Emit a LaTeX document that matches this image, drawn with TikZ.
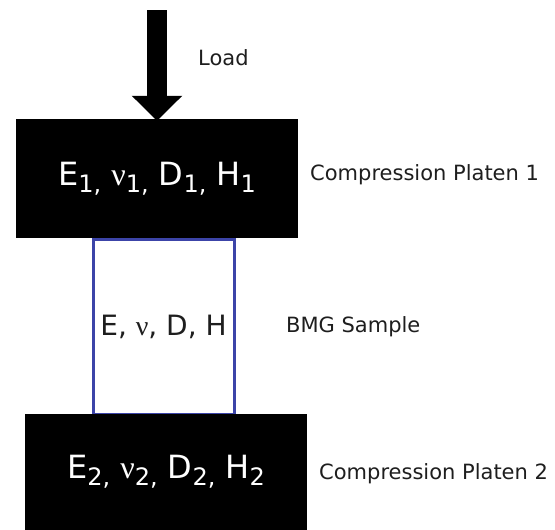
\documentclass[tikz,border=0pt]{standalone}
\usepackage{fontspec}
\setmainfont{DejaVu Sans}
\newfontfamily\nufont{Liberation Serif}
\usetikzlibrary{arrows.meta}
\definecolor{sampleblue}{RGB}{60,68,168}
\definecolor{labelgray}{RGB}{30,30,30}
\newcommand{\lowsub}[1]{\raisebox{-7pt}{\fontsize{24}{24}\selectfont #1}}
\newcommand{\nusym}{{\nufont ν}}
\tikzset{
  platen/.style={fill=black, inner sep=0pt, minimum width=282pt, text=white,
    font=\fontsize{32}{32}\selectfont},
  samplebox/.style={draw=sampleblue, line width=3pt, inner sep=0pt, fill=white,
    font=\fontsize{28}{28}\selectfont, text=labelgray},
  lbl/.style={anchor=west, inner sep=0pt, text=labelgray, font=\fontsize{21}{21}\selectfont},
  loadarrow/.style={line width=20pt, -{Triangle[width=49pt,length=25pt]}}
}
\begin{document}
\begin{tikzpicture}[x=1pt,y=-1pt]
\useasboundingbox (0,0) rectangle (555,530);
\node[samplebox, minimum width=141pt, minimum height=175pt] (s) at (163.5,326.5) {E, \nusym, D, H};
\node[platen, minimum height=119pt] (p1) at (157,178.5) {E\lowsub{1,} \nusym\lowsub{1,} D\lowsub{1,} H\lowsub{1}};
\node[platen, minimum height=116pt] (p2) at (166,472) {E\lowsub{2,} \nusym\lowsub{2,} D\lowsub{2,} H\lowsub{2}};
\coordinate (top) at (157,10);
\draw[loadarrow] (top) -- ([yshift=-2pt]p1.north);
\node[lbl] (load) at (198,58) {Load};
\node[lbl] (l1) at (310,175) {Compression Platen 1};
\node[lbl] (ls) at (286,327) {BMG Sample};
\node[lbl] (l2) at (319,474) {Compression Platen 2};
\end{tikzpicture}
\end{document}
